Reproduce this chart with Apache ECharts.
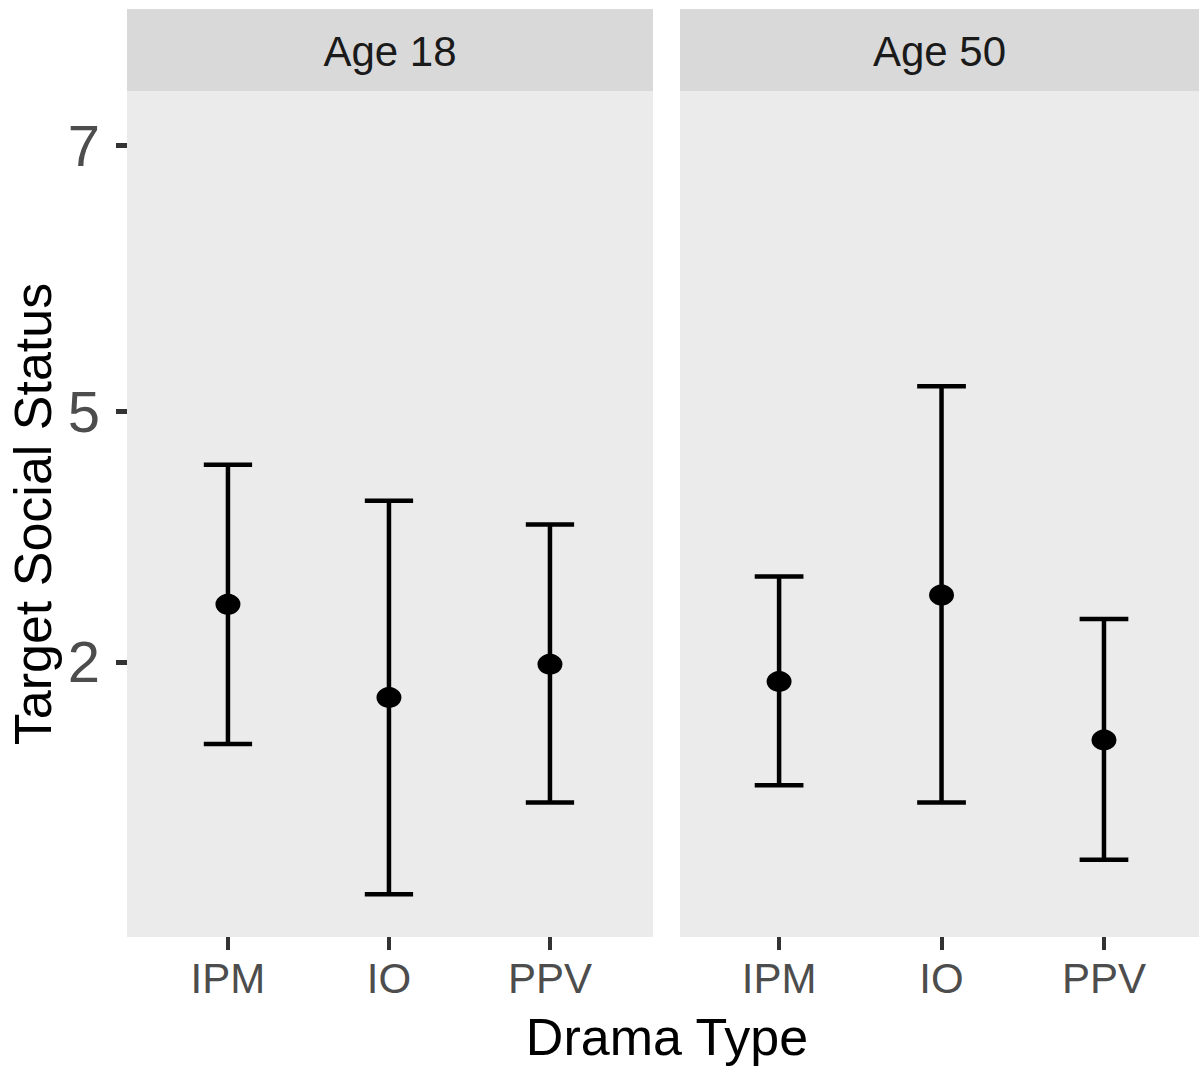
<!DOCTYPE html>
<html><head><meta charset="utf-8">
<script src="https://cdn.jsdelivr.net/npm/echarts@6/dist/echarts.min.js"></script>
<style>html,body{margin:0;padding:0;background:#fff}#c{width:1199px;height:1070px}</style>
</head><body><div id="c"></div>
<script>
// ---- data ----
const categories = ['IPM', 'IO', 'PPV'];
const panels = ['Age 18', 'Age 50'];
const age18Mean  = [3.55, 2.85, 3.10];
const age18Lower = [2.50, 1.37, 2.06];
const age18Upper = [4.60, 4.33, 4.15];
const age50Mean  = [2.97, 3.62, 2.53];
const age50Lower = [2.19, 2.06, 1.63];
const age50Upper = [3.76, 5.19, 3.44];
const yTickLabels = ['2', '5', '7'];
const yTickValues = [3.117, 5, 7];
const xTitle = 'Drama Type';
const yTitle = 'Target Social Status';

const FONT = '"Liberation Sans", Arial, sans-serif';
const chart = echarts.init(document.getElementById('c'), null, {renderer: 'svg'});

const gridBox = [
  {left: 127, top: 91, width: 526, height: 846},
  {left: 680, top: 91, width: 519, height: 846}
];
const xRange = [[0.373, 3.64], [0.39, 3.585]];
const means = [age18Mean, age50Mean];
const lowers = [age18Lower, age50Lower];
const uppers = [age18Upper, age50Upper];
const catPos = categories.map((c, i) => i + 1);

function errSeries(gi) {
  return {
    type: 'custom', xAxisIndex: gi, yAxisIndex: gi, z: 2,
    data: categories.map((c, i) => [catPos[i], lowers[gi][i], uppers[gi][i]]),
    encode: {x: 0, y: [1, 2]},
    renderItem(params, api) {
      const x = api.value(0), lo = api.value(1), hi = api.value(2);
      const w = 0.15;
      const a = api.coord([x, lo]), b = api.coord([x, hi]);
      const l1 = api.coord([x - w, hi]), r1 = api.coord([x + w, hi]);
      const l2 = api.coord([x - w, lo]), r2 = api.coord([x + w, lo]);
      const style = {stroke: '#000', lineWidth: 4.5, fill: null};
      return {type: 'group', children: [
        {type: 'line', shape: {x1: a[0], y1: a[1], x2: b[0], y2: b[1]}, style},
        {type: 'line', shape: {x1: l1[0], y1: l1[1], x2: r1[0], y2: r1[1]}, style},
        {type: 'line', shape: {x1: l2[0], y1: l2[1], x2: r2[0], y2: r2[1]}, style}
      ]};
    }
  };
}
function pointSeries(gi) {
  return {
    type: 'scatter', xAxisIndex: gi, yAxisIndex: gi, z: 3,
    symbol: 'circle', symbolSize: [25, 21],
    itemStyle: {color: '#000', opacity: 1},
    data: categories.map((c, i) => [catPos[i], means[gi][i]])
  };
}

const option = {
  backgroundColor: '#fff',
  animation: false,
  grid: gridBox.map(g => Object.assign({show: true, backgroundColor: '#ebebeb', borderWidth: 0}, g)),
  xAxis: [0, 1].map(gi => ({
    type: 'value', gridIndex: gi, min: xRange[gi][0], max: xRange[gi][1],
    axisLine: {show: false},
    splitLine: {show: false},
    axisTick: {show: true, customValues: catPos, length: 13, lineStyle: {color: '#333', width: 4}},
    axisLabel: {show: true, customValues: catPos, margin: 20,
      formatter: v => categories[Math.round(v) - 1],
      fontFamily: FONT, fontSize: 42, color: '#4d4d4d'}
  })),
  yAxis: [0, 1].map(gi => ({
    type: 'value', gridIndex: gi, min: 1.049, max: 7.41,
    axisLine: {show: false},
    splitLine: {show: false},
    name: gi === 0 ? yTitle : '',
    nameLocation: 'middle', nameGap: 68,
    nameTextStyle: {fontFamily: FONT, fontSize: 52, color: '#000'},
    axisTick: {show: gi === 0, customValues: yTickValues, length: 11, lineStyle: {color: '#333', width: 5}},
    axisLabel: {show: gi === 0, customValues: yTickValues, margin: 27,
      formatter: v => yTickLabels[yTickValues.indexOf(v)],
      fontFamily: FONT, fontSize: 58, color: '#4d4d4d'}
  })),
  graphic: [
    ...gridBox.map((g, gi) => ({
      type: 'rect', shape: {x: g.left, y: 9, width: g.width, height: 82},
      style: {fill: '#d9d9d9'}, silent: true
    })),
    ...gridBox.map((g, gi) => ({
      type: 'text', x: g.left + g.width / 2, y: 51,
      style: {text: panels[gi], fontFamily: FONT, fontSize: 42, fill: '#1a1a1a',
        textAlign: 'center', textVerticalAlign: 'middle'}, silent: true
    })),
    {type: 'text', x: 667, y: 1037,
      style: {text: xTitle, fontFamily: FONT, fontSize: 52, fill: '#000',
        textAlign: 'center', textVerticalAlign: 'middle'}, silent: true}
  ],
  series: [errSeries(0), pointSeries(0), errSeries(1), pointSeries(1)]
};
chart.setOption(option);
</script>
</body></html>
